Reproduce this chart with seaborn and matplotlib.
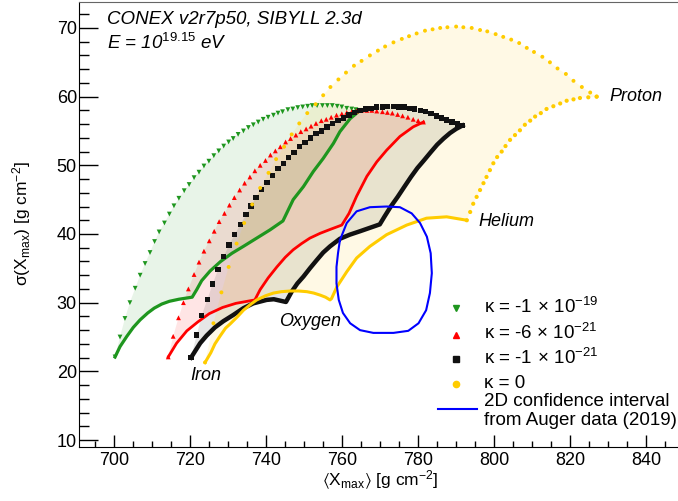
import numpy as np
import pandas as pd
import matplotlib
matplotlib.use("Agg")
import matplotlib.pyplot as plt
import seaborn as sns
from matplotlib.lines import Line2D
from matplotlib.ticker import MultipleLocator

plt.rcParams['font.family'] = ['Liberation Sans', 'DejaVu Sans']
plt.rcParams['mathtext.fontset'] = 'custom'
plt.rcParams['mathtext.rm'] = 'Liberation Sans'
plt.rcParams['mathtext.it'] = 'Liberation Sans:italic'
plt.rcParams['mathtext.fallback'] = 'stixsans'

# kappa = -1e-19 (green), Fe-p mixture arc (sparse markers)
green_arc_x = [700.2, 701.5, 702.8, 704.1, 705.5, 706.8, 708.1, 709.4, 710.6, 711.8, 713.2, 714.5, 715.7,
               717.0, 718.4, 719.7, 721.0, 722.3, 723.6, 724.9, 726.2, 727.5, 728.8, 730.1, 731.3, 732.6,
               734.0, 735.3, 736.6, 737.9, 739.2, 740.5, 741.9, 743.1, 744.3, 745.7, 747.0, 748.3, 749.6,
               750.9, 752.1, 753.4, 754.8, 756.1, 757.4, 758.7, 759.9, 761.2, 762.5, 763.6, 764.7]
green_arc_y = [22.1, 25.0, 27.7, 30.0, 32.1, 34.0, 35.7, 37.3, 38.9, 40.3, 41.6, 42.9, 44.1,
               45.2, 46.3, 47.2, 48.2, 49.0, 49.9, 50.6, 51.4, 52.1, 52.8, 53.4, 53.9, 54.5,
               55.0, 55.5, 55.9, 56.3, 56.7, 57.0, 57.3, 57.6, 57.8, 58.1, 58.2, 58.4, 58.5,
               58.6, 58.7, 58.7, 58.7, 58.7, 58.7, 58.6, 58.5, 58.3, 58.2, 58.1, 58.0]
# Fe -> O -> He -> p (dense line)
green_edge_x = [700.2, 701.5, 703.3, 705.0, 706.8, 708.8, 710.5, 712.5, 714.5, 717.0, 720.5,
                721.7, 723.0, 725.2, 728.0, 731.0, 734.0, 737.5, 741.0, 744.4,
                747.1, 749.8, 752.4, 755.0, 757.7, 759.4, 762.1, 764.7]
green_edge_y = [22.1, 23.6, 25.1, 26.4, 27.5, 28.5, 29.2, 29.8, 30.2, 30.5, 30.8,
                31.9, 33.2, 34.6, 36.0, 37.2, 38.2, 39.4, 40.6, 41.9,
                45.0, 46.9, 49.1, 51.0, 53.2, 54.9, 56.8, 58.0]

# kappa = -6e-21 (red)
red_arc_x = [714.2, 715.5, 716.9, 718.2, 719.5, 721.0, 722.3, 723.6, 725.0, 726.3, 727.6, 729.0, 730.3,
             731.6, 733.0, 734.3, 735.7, 737.0, 738.4, 739.8, 741.1, 742.4, 743.7, 745.1, 746.4, 747.8,
             749.1, 750.5, 751.8, 753.1, 754.5, 755.8, 757.1, 758.5, 759.9, 761.2, 762.5, 763.8, 765.1,
             766.5, 767.8, 769.1, 770.6, 771.9, 773.2, 774.6, 775.9, 777.3, 778.7, 780.0, 781.4]
red_arc_y = [22.1, 25.1, 27.8, 30.0, 32.0, 34.1, 35.9, 37.5, 39.0, 40.4, 41.8, 43.0, 44.2,
             45.3, 46.4, 47.4, 48.3, 49.2, 50.0, 50.7, 51.5, 52.1, 52.7, 53.4, 53.9, 54.4,
             54.9, 55.3, 55.7, 56.1, 56.5, 56.7, 57.0, 57.3, 57.5, 57.7, 57.8, 57.9, 58.0,
             58.0, 58.0, 57.9, 57.8, 57.7, 57.6, 57.4, 57.2, 57.0, 56.7, 56.5, 56.3]
red_edge_x = [714.2, 716.4, 719.1, 722.0, 725.0, 728.5, 732.0, 737.0,
              738.4, 740.5, 742.8, 745.0, 747.1, 749.3, 751.5, 754.2, 757.0, 759.9,
              761.8, 763.8, 766.5, 769.1, 771.7, 775.2, 778.7, 781.4]
red_edge_y = [22.1, 24.1, 25.9, 27.2, 28.4, 29.3, 29.9, 30.4,
              31.9, 33.6, 35.2, 36.6, 37.7, 38.6, 39.4, 40.1, 40.7, 41.3,
              43.0, 45.5, 48.4, 50.5, 52.2, 54.2, 55.6, 56.3]

# kappa = -1e-21 (black)
black_arc_x = [720.2, 721.7, 723.0, 724.5, 725.9, 727.3, 728.8, 730.2, 731.7, 733.2, 734.7, 736.0, 737.3,
               738.8, 740.2, 741.7, 743.1, 744.5, 745.9, 747.3, 748.7, 750.2, 751.7, 753.1, 754.6, 756.0,
               757.4, 758.9, 760.3, 761.8, 763.2, 764.7, 766.2, 767.6, 769.1, 770.6, 772.0, 773.5, 774.9,
               776.3, 777.7, 779.1, 780.6, 782.0, 783.4, 784.8, 786.2, 787.5, 788.9, 790.3, 791.7]
black_arc_y = [22.0, 25.3, 28.1, 30.5, 32.7, 34.8, 36.7, 38.4, 39.9, 41.4, 42.8, 44.1, 45.3,
               46.5, 47.5, 48.5, 49.5, 50.3, 51.1, 51.9, 52.7, 53.3, 54.0, 54.6, 55.0, 55.6,
               56.1, 56.5, 56.9, 57.3, 57.7, 58.0, 58.2, 58.3, 58.5, 58.5, 58.6, 58.6, 58.5,
               58.5, 58.3, 58.2, 58.0, 57.8, 57.5, 57.2, 56.9, 56.6, 56.3, 56.0, 55.8]
black_edge_x = [720.2, 722.6, 724.3, 726.5, 728.7, 731.3, 734.0, 736.6, 740.1, 742.0, 743.6, 745.2,
                746.7, 748.2, 749.8, 751.5, 753.3, 755.0, 756.8, 759.4, 762.0, 764.7, 767.3, 769.9,
                771.1, 772.8, 774.6, 776.4, 778.1, 779.8, 781.5, 783.3, 785.0, 786.7, 788.4, 790.0, 791.7]
black_edge_y = [22.0, 24.1, 25.2, 26.4, 27.3, 28.2, 29.2, 29.9, 30.4, 30.5, 30.3, 30.1,
                31.6, 32.8, 33.8, 35.0, 36.2, 37.3, 38.2, 39.3, 39.9, 40.4, 40.9, 41.4,
                42.5, 44.0, 45.4, 46.9, 48.3, 49.6, 50.7, 51.9, 53.0, 53.9, 54.7, 55.3, 55.8]

# kappa = 0 (yellow)
yellow_arc_x = [723.9, 726.1, 728.2, 730.1, 732.2, 734.2, 736.3, 738.4, 740.6, 742.6, 744.7, 746.7, 748.7,
                750.8, 753.0, 755.0, 756.9, 759.0, 761.0, 763.1, 765.1, 767.3, 769.4, 771.3, 773.5, 775.7,
                777.6, 779.6, 781.8, 783.8, 785.8, 787.7, 790.0, 791.9, 794.1, 796.3, 798.2, 800.4, 802.4,
                804.5, 806.6, 808.6, 810.5, 812.7, 814.7, 816.7, 818.9, 820.9, 823.1, 825.3, 827.0]
yellow_arc_y = [21.3, 27.0, 31.5, 35.2, 38.6, 41.6, 44.3, 46.7, 48.9, 50.9, 52.7, 54.5, 56.1,
                57.6, 58.9, 60.2, 61.4, 62.5, 63.5, 64.5, 65.2, 66.0, 66.7, 67.3, 67.9, 68.4,
                68.8, 69.2, 69.6, 69.8, 70.0, 70.1, 70.2, 70.1, 70.0, 69.7, 69.5, 69.1, 68.7,
                68.3, 67.8, 67.1, 66.5, 65.8, 65.0, 64.1, 63.3, 62.3, 61.4, 60.6, 60.0]
yellow_edge_x = [723.9, 725.4, 726.5, 727.8, 729.3, 730.5, 732.5, 734.0, 736.0, 737.5, 739.8, 741.9,
                 744.0, 746.3, 748.5, 750.7, 752.5, 754.2, 755.6, 756.8,
                 757.2, 758.6, 761.2, 763.8, 767.3, 771.7, 777.0, 782.2, 787.5, 792.8]
yellow_edge_y = [21.3, 22.7, 24.0, 25.1, 26.3, 26.9, 28.0, 28.9, 29.8, 30.4, 31.0, 31.4,
                 31.6, 31.7, 31.7, 31.6, 31.4, 31.1, 30.8, 30.4,
                 30.6, 32.3, 34.5, 36.5, 38.2, 39.9, 41.3, 42.3, 42.5, 42.0]
# He -> p mixture for kappa = 0 (markers)
yellow_hep_x = [792.8, 793.7, 794.5, 795.4, 796.3, 797.2, 798.0, 798.9, 799.8, 800.8, 802.0, 803.0, 804.2,
                805.5, 806.8, 808.1, 809.5, 810.8, 812.3, 813.8, 815.6, 817.4, 819.1, 820.9, 822.6, 824.8, 827.0]
yellow_hep_y = [42.0, 43.2, 44.4, 45.4, 46.4, 47.4, 48.3, 49.3, 50.3, 51.2, 52.0, 52.8, 53.7,
                54.4, 55.1, 55.9, 56.5, 57.1, 57.6, 58.2, 58.6, 59.0, 59.4, 59.6, 59.8, 59.9, 60.0]

# Auger 2019 2D confidence contour
auger_x = [759.4, 761.2, 763.8, 767.3, 771.7, 775.2, 778.3, 780.5, 782.3, 783.3, 783.6, 783.1, 782.1,
           780.1, 777.4, 773.5, 768.2, 764.7, 762.1, 760.2, 759.1, 758.5, 758.5, 758.9, 759.4]
auger_y = [39.1, 41.6, 43.3, 43.9, 44.0, 43.9, 43.0, 41.6, 39.6, 37.2, 34.3, 31.4, 28.9,
           27.0, 25.9, 25.6, 25.6, 26.0, 27.0, 28.5, 30.4, 32.8, 35.2, 37.2, 39.1]

sets = [
    dict(name='green', color='#1e961e', marker='v', ms=12,
         arc=(green_arc_x, green_arc_y), edge=(green_edge_x, green_edge_y), lw=2.3),
    dict(name='red', color='#ff0000', marker='^', ms=12,
         arc=(red_arc_x, red_arc_y), edge=(red_edge_x, red_edge_y), lw=2.0),
    dict(name='black', color='#111111', marker='s', ms=15,
         arc=(black_arc_x, black_arc_y), edge=(black_edge_x, black_edge_y), lw=3.2),
    dict(name='yellow', color='#ffcc00', marker='o', ms=8,
         arc=(yellow_arc_x, yellow_arc_y), edge=(yellow_edge_x + yellow_hep_x[1:],
                                                 yellow_edge_y + yellow_hep_y[1:]), lw=2.2),
]

fig = plt.figure(figsize=(6.78, 5.01), dpi=100)
ax = fig.add_axes([0.1165, 0.1084, 0.889, 0.8886])

# shaded regions
for s in sets:
    px = list(s['edge'][0]) + list(s['arc'][0])[::-1]
    py = list(s['edge'][1]) + list(s['arc'][1])[::-1]
    ax.fill(px, py, color=s['color'], alpha=0.1, lw=0, zorder=1)

for s in sets:
    if s['name'] == 'yellow':
        ex, ey = yellow_edge_x, yellow_edge_y
    else:
        ex, ey = s['edge']
    sns.lineplot(x=ex, y=ey, sort=False, estimator=None, color=s['color'],
                 lw=s['lw'], ax=ax, zorder=3)
    sns.scatterplot(x=s['arc'][0], y=s['arc'][1], marker=s['marker'], s=s['ms'],
                    color=s['color'], edgecolor='none', linewidth=0, ax=ax, zorder=3)
sns.scatterplot(x=yellow_hep_x, y=yellow_hep_y, marker='o', s=9, color='#ffcc00',
                edgecolor='none', linewidth=0, ax=ax, zorder=3)

sns.lineplot(x=auger_x, y=auger_y, sort=False, estimator=None, color='#0000ff', lw=1.5, ax=ax, zorder=4)

ax.set_xlim(690.7, 849.4)
ax.set_ylim(9.03, 73.85)
ax.xaxis.set_major_locator(MultipleLocator(20))
ax.xaxis.set_minor_locator(MultipleLocator(5))
ax.yaxis.set_major_locator(MultipleLocator(10))
ax.yaxis.set_minor_locator(MultipleLocator(2))
ax.tick_params(axis='both', which='both', direction='in', labelsize=13, width=1)
ax.tick_params(axis='x', which='major', length=8.4, pad=4)
ax.tick_params(axis='x', which='minor', length=4.3)
ax.tick_params(axis='y', which='major', length=13.5, pad=1.5)
ax.tick_params(axis='y', which='minor', length=7)
ax.spines['right'].set_visible(False)
ax.spines['top'].set_color('#666666')
ax.set_xlabel('')
ax.set_ylabel('')

# annotations
ax.text(0.046, 0.949, 'CONEX v2r7p50, SIBYLL 2.3d', transform=ax.transAxes,
        fontsize=13.5, fontstyle='italic', va='baseline')
ax.text(0.046, 0.893, r'E = 10$^{\mathit{19.15}}$ eV', transform=ax.transAxes,
        fontsize=13.5, fontstyle='italic', va='baseline')
for lab, lx, ly in [('Proton', 830.3, 59.4), ('Helium', 795.8, 41.2),
                    ('Oxygen', 743.4, 26.6), ('Iron', 719.9, 18.7)]:
    ax.text(lx, ly, lab, fontsize=13, fontstyle='italic', va='baseline')

# axis titles
W, H = 678.0, 501.0
fig.text(380 / W, 1 - 486 / H, r'$\langle$X$_{\rm max}$$\rangle$ [g cm$^{-2}$]', fontsize=12.5,
         ha='center', va='baseline')
fig.text(22 / W, 1 - 224 / H, '\u03c3(X$_{\\rm max}$) [g cm$^{-2}$]', fontsize=12.5,
         ha='center', va='center', rotation=90)

# legend
leg_labels = ['\u03ba = -1$\\,\\times\\,$10$^{-19}$', '\u03ba = -6 $\\times$ 10$^{-21}$',
              '\u03ba = -1$\\,\\times\\,$10$^{-21}$', '\u03ba = 0']
leg_rows = [(308, 313), (335, 339), (359, 364), (384, 388)]
for s, lab, (my, ty) in zip(sets, leg_labels, leg_rows):
    fig.add_artist(Line2D([456 / W], [1 - my / H], marker=s['marker'], color=s['color'],
                          markersize=4.5, lw=0, transform=fig.transFigure))
    fig.text(484 / W, 1 - ty / H, lab, fontsize=13.5, va='baseline')
fig.add_artist(Line2D([438 / W, 477 / W], [1 - 409 / H, 1 - 409 / H], color='#0000ff', lw=1.5,
                      transform=fig.transFigure))
fig.text(484 / W, 1 - 406.5 / H, '2D confidence interval', fontsize=13.5, va='baseline')
fig.text(484 / W, 1 - 425 / H, 'from Auger data (2019)', fontsize=13.5, va='baseline')

fig.savefig('out.png', dpi=100)
